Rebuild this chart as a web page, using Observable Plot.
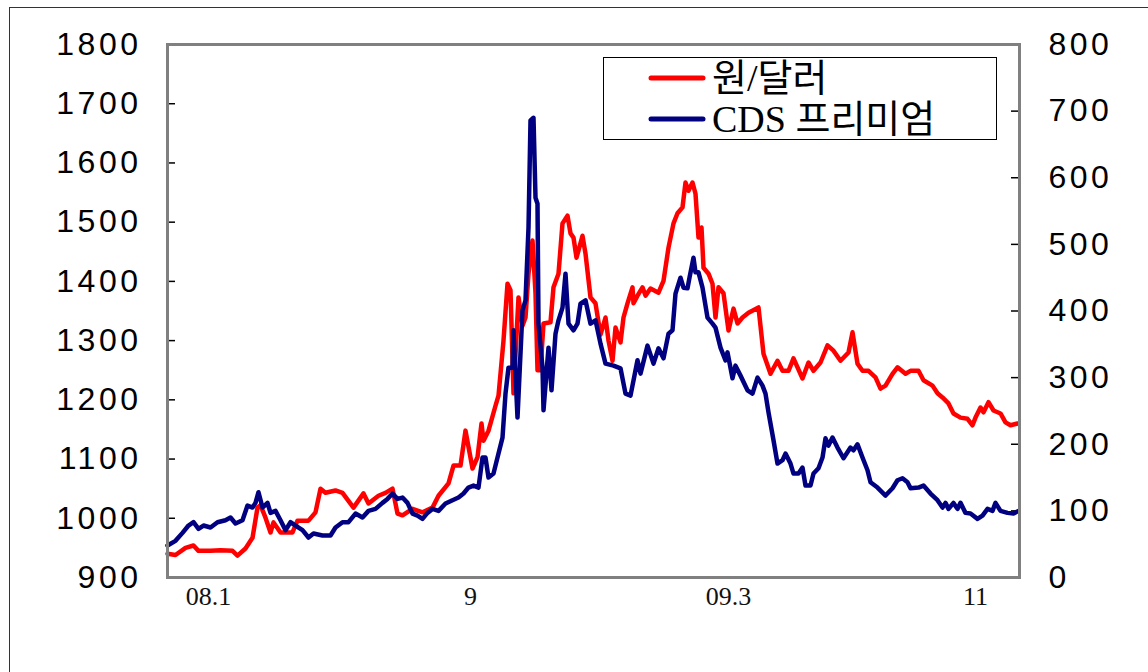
<!DOCTYPE html>
<html>
<head>
<meta charset="utf-8">
<script src="https://cdn.jsdelivr.net/npm/d3@7"></script>
<script src="https://cdn.jsdelivr.net/npm/@observablehq/plot@0.6"></script>
<style>
  html, body { margin: 0; padding: 0; background: #fff; }
  #wrap { position: relative; width: 1148px; height: 672px; overflow: hidden; }
  #outer { position: absolute; left: 9px; top: 7px; width: 1150px; height: 700px; border: 1px solid #333; box-sizing: border-box; }
  #chart { position: absolute; left: 0; top: 0; }
  #chart svg g[aria-label="y-axis tick label"] text { letter-spacing: 3.5px; }
  #legend { position: absolute; left: 603px; top: 57px; width: 394px; height: 83px; border: 1.5px solid #000; background: #fff; box-sizing: border-box; }
  .row { position: absolute; left: 0; height: 40px; display: flex; align-items: center; }
  .row svg { margin-left: 44px; margin-right: 6px; }
  .row span { font-family: "Liberation Serif", "Noto Sans CJK KR", serif; font-size: 38px; color: #000; line-height: 1; }
</style>
</head>
<body>
<div id="wrap">
  <div id="outer"></div>
  <div id="chart"></div>
  <div id="legend"></div>
</div>
<script>
// Series names
const seriesNames = ["원/달러", "CDS 프리미엄"];
const seriesColors = ["#ff0000", "#000080"];

// Trading-day index (approx.) and KRW/USD exchange rate (left axis)
const krwDay = [0,4,9,13,15.5,21.5,26.5,32.5,35,39,42.5,45,46.5,49,51.5,53,56.5,62.5,65,70.5,74,76.5,79,84,87.5,93,98,100.5,105.5,109,112.5,115,117.5,122.5,127.5,132.5,135.5,140.5,143,146.5,149,152.5,155,157,158,160.5,164,165.5,168,170,171.5,173,175.5,177.5,179,180.5,182.5,184,185,186.5,188,191.5,193,195.5,197.5,200,201.5,203,204.5,207.5,209,211.5,214,216.5,219,220.5,222.5,224,226.5,228,230,232.5,233,235,237.5,239,241.5,245.5,248,250.5,253,255,257.5,259,260.5,262.5,264,265.5,267,268,270.5,272.5,274,275.5,278,280.5,283,285,287.5,290.5,295.5,298,301.5,305,307.5,310.5,313,317.5,320.5,323,326.5,330,333,336.5,340.5,342.5,345,347.5,350.5,354,356.5,359,362.5,365,369,371.5,375.5,378,382.5,385,387.5,390.5,393,396.5,400,402.5,404,406.5,408,410.5,413,416.5,419,421.5,425];
const krwValue = [940,938,950,954,945,945,946,945,937,949,967,1018,1022,1001,976,993,976,976,996,996,1010,1050,1043,1047,1043,1018,1042,1025,1038,1043,1050,1008,1005,1016,1010,1018,1038,1059,1089,1089,1148,1084,1103,1160,1131,1148,1190,1207,1300,1396,1385,1211,1373,1325,1339,1413,1469,1380,1250,1250,1329,1331,1390,1413,1498,1511,1481,1474,1440,1477,1447,1373,1363,1310,1339,1300,1266,1322,1297,1339,1363,1390,1363,1376,1390,1376,1388,1381,1401,1457,1498,1515,1525,1567,1553,1567,1548,1474,1491,1423,1413,1396,1339,1390,1380,1317,1354,1329,1339,1347,1356,1278,1244,1266,1249,1249,1270,1236,1263,1249,1263,1292,1283,1266,1280,1314,1261,1249,1249,1238,1219,1224,1244,1255,1244,1249,1249,1233,1224,1211,1204,1194,1177,1170,1168,1157,1170,1187,1179,1196,1182,1177,1162,1157,1160];

// Trading-day index (approx.) and CDS premium in bp (right axis)
const cdsDay = [0,4,7.5,10.5,13,15.5,18,21.5,25,29,31.5,34,37.5,40,42.5,44,45.5,47.5,50,51.5,54,56.5,59,61.5,64,67.5,70.5,73,77.5,81.5,84,87.5,90.5,94,97.5,100.5,104,107.5,110,112.5,115,117.5,120,122.5,125,127.5,130,132.5,135.5,139,142.5,145.5,148,150.5,153,155.5,157.5,159,160.5,163,165,167.5,169,170.5,172.5,173,175,177.5,179,180.5,181.5,183,184,185,185.5,187.5,188,190.5,192,194,195.5,197.5,199,200.5,203,205,206.5,209,211.5,214,216.5,219,223,226.5,229,231.5,235,236.5,240,243,245.5,248,250.5,252.5,254,256.5,258,260,261,263,264,265.5,267.5,270,272.5,274,276.5,279,280,282.5,284,286.5,290,292.5,295,297.5,299,300.5,303,305,307.5,309,311.5,313,315.5,317.5,319,321.5,323,325.5,327.5,329,330.5,332.5,335,338,341.5,343,345,347.5,350,351.5,355,359,362.5,365,367.5,370,371.5,375.5,378,381.5,385,387.5,389,390.5,393,395,396.5,399,401.5,405,407.5,410,412.5,414,416.5,420,423,425.5];
const cdsValue = [48,55,67,78,83,73,78,75,83,86,90,81,86,108,105,112,128,105,112,97,100,86,71,83,78,71,60,66,63,63,75,83,83,96,90,100,103,112,118,126,118,120,112,96,93,88,97,103,100,111,116,120,126,135,138,135,180,180,150,156,180,210,276,315,315,371,240,401,416,525,686,690,570,561,381,315,251,345,281,366,386,405,456,381,371,381,411,416,381,386,351,321,318,314,276,273,326,306,348,321,344,329,366,371,426,450,435,434,450,480,458,458,435,390,381,375,345,326,338,299,318,303,281,276,300,288,276,248,206,171,176,186,171,156,156,165,138,138,156,164,180,209,198,210,195,179,195,191,200,180,161,143,135,123,134,146,149,143,134,135,138,126,116,105,112,103,112,103,112,97,96,88,93,103,100,112,100,97,96,100];

// Axis tick values and x tick labels
const leftTicks = [900,1000,1100,1200,1300,1400,1500,1600,1700,1800];
const rightTicks = [0,100,200,300,400,500,600,700,800];
const xTickDays = [20.5,151.5,280.5,404];
const xTickLabels = ["08.1","9","09.3","11"];

const leftMin = 900, leftMax = 1800, rightMax = 800;
const toLeft = v => leftMin + v * (leftMax - leftMin) / rightMax;

const krw = krwDay.map((d, i) => ({day: d, value: krwValue[i]}));
const cds = cdsDay.map((d, i) => ({day: d, value: toLeft(cdsValue[i])}));
const xMax = 426;

const chart = Plot.plot({
  width: 1148,
  height: 672,
  marginLeft: 167,
  marginRight: 129,
  marginTop: 44,
  marginBottom: 95,
  style: {background: "transparent", overflow: "visible"},
  x: {domain: [0, xMax]},
  y: {domain: [leftMin, leftMax]},
  marks: [
    Plot.axisY(leftTicks, {anchor: "left", tickSize: 0, tickPadding: 26, fontSize: 32, fontFamily: "Liberation Sans", fill: "#000", tickFormat: d => String(d), label: null}),
    Plot.axisY(rightTicks.map(toLeft), {anchor: "right", tickSize: 0, tickPadding: 29, fontSize: 32, fontFamily: "Liberation Sans", fill: "#000", textAnchor: "start", tickFormat: d => String(Math.round((d - leftMin) * rightMax / (leftMax - leftMin))), label: null}),
    Plot.axisX(xTickDays, {anchor: "bottom", tickSize: 0, tickPadding: 9, fontSize: 26, fontFamily: "Liberation Serif", fill: "#111", tickFormat: (d) => xTickLabels[xTickDays.indexOf(d)], label: null}),
    Plot.ruleY(leftTicks.slice(1, -1), {x1: 0, x2: 4, stroke: "#000", strokeWidth: 1.5}),
    Plot.ruleY(rightTicks.slice(1, -1).map(toLeft), {x1: xMax - 4, x2: xMax, stroke: "#000", strokeWidth: 1.5}),
    Plot.line(krw, {x: "day", y: "value", stroke: seriesColors[0], strokeWidth: 4.5, strokeLinejoin: "round", strokeLinecap: "round"}),
    Plot.line(cds, {x: "day", y: "value", stroke: seriesColors[1], strokeWidth: 4.5, strokeLinejoin: "round", strokeLinecap: "round"}),
    Plot.frame({stroke: "#808080", strokeWidth: 3})
  ]
});
document.getElementById("chart").appendChild(chart);

// Legend
const legend = document.getElementById("legend");
seriesNames.forEach((name, i) => {
  const row = document.createElement("div");
  row.className = "row";
  row.style.top = (i === 0 ? 0 : 41) + "px";
  row.innerHTML = `<svg width="58" height="8"><line x1="3" y1="4" x2="55" y2="4" stroke="${seriesColors[i]}" stroke-width="5" stroke-linecap="round"/></svg><span>${name}</span>`;
  legend.appendChild(row);
});
</script>
</body>
</html>
